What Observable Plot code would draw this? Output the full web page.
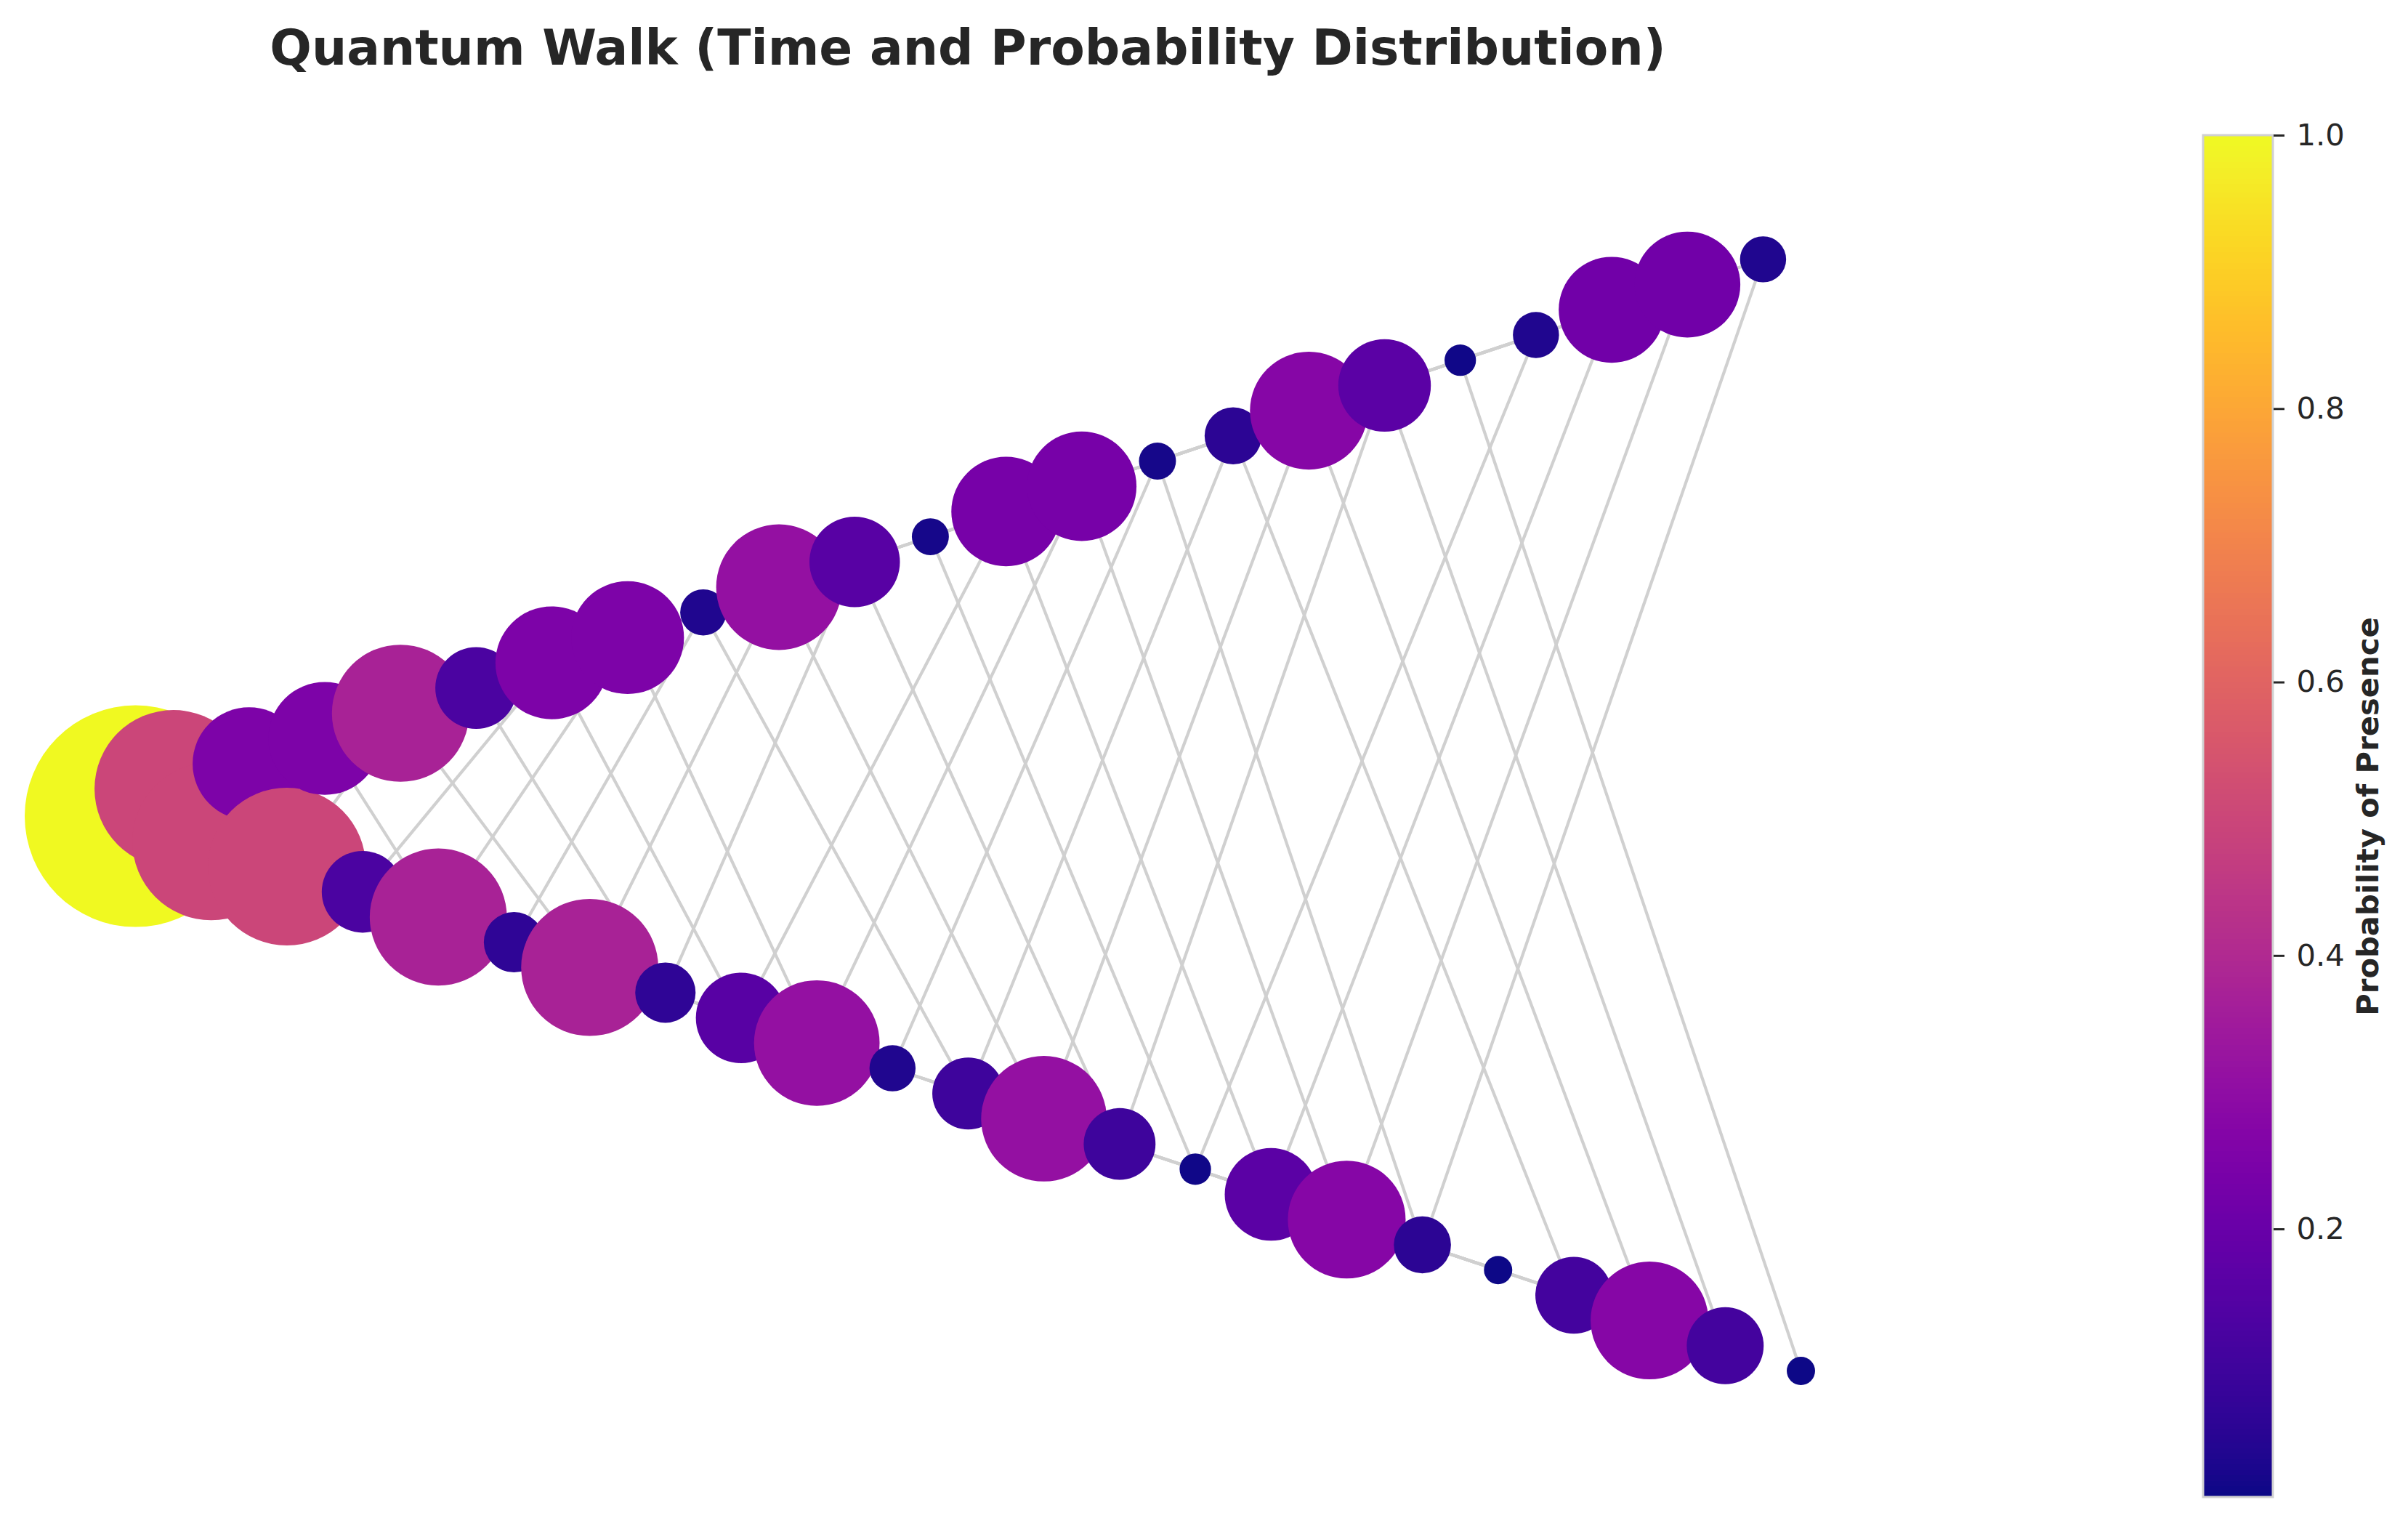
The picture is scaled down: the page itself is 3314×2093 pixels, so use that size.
<!DOCTYPE html>
<html><head><meta charset="utf-8">
<script src="https://cdn.jsdelivr.net/npm/d3@7"></script>
<script src="https://cdn.jsdelivr.net/npm/@observablehq/plot@0.6"></script>
<style>
html,body{margin:0;padding:0;background:#fff;}
#root{position:relative;width:3314px;height:2093px;overflow:hidden;font-family:"DejaVu Sans",sans-serif;background:#fff;}
#title{position:absolute;left:0;width:2664px;top:32px;text-align:center;font-size:67.8px;font-weight:bold;color:#262626;line-height:67px;white-space:nowrap;font-family:"DejaVu Sans",sans-serif;}
#main{position:absolute;left:0;top:0;}
#cbar{position:absolute;left:3000px;top:0;}
</style></head>
<body>
<div id="root"><div id="main"></div><div id="title">Quantum Walk (Time and Probability Distribution)</div><div id="cbar"></div></div>
<script>
// time step of each node, and its lattice position on the walk line
const stepTime = [0, 1,1, 2,2,2, 3,3,3,3, 4,4,4,4,4, 5,5,5,5,5,5, 6,6,6,6,6,6,6, 7,7,7,7,7,7,7,7, 8,8,8,8,8,8,8,8,8];
const latticePos = [0, -1,1, -2,0,2, -3,-1,1,3, -4,-2,0,2,4, -5,-3,-1,1,3,5, -6,-4,-2,0,2,4,6, -7,-5,-3,-1,1,3,5,7, -8,-6,-4,-2,0,2,4,6,8];
const probability = [1,
  0.5, 0.5,
  0.25, 0.5, 0.25,
  0.125, 0.375, 0.375, 0.125,
  0.0625, 0.25, 0.375, 0.25, 0.0625,
  0.03125, 0.15625, 0.3125, 0.3125, 0.15625, 0.03125,
  0.015625, 0.09375, 0.234375, 0.3125, 0.234375, 0.09375, 0.015625,
  0.0078125, 0.0546875, 0.1640625, 0.2734375, 0.2734375, 0.1640625, 0.0546875, 0.0078125,
  0.00390625, 0.03125, 0.109375, 0.21875, 0.2734375, 0.21875, 0.109375, 0.03125, 0.00390625];
// graph layout coordinates of each node
const layoutX = [0,1,2,3,4,5,6,7,8,9,10,11,12,13,14,15,16,17,18,19,20,21,22,23,24,25,26,27,28,29,30,31,32,33,34,35,36,37,38,39,40,41,42,43,44];
const layoutY = [-0.58, 1.58, -2.58, 3.58, -4.58, 5.58, -6.58, 7.58, -8.58, 9.58,
  -10.58, 11.58, -12.58, 13.58, -14.58, 15.58, -16.58, 17.58, -18.58, 19.58,
  -20.58, 21.58, -22.58, 23.58, -24.58, 25.58, -26.58, 27.58, -28.58, 29.58,
  -30.58, 31.58, -32.58, 33.58, -34.58, 35.58, -36.58, 37.58, -38.58, 39.58,
  -40.58, 41.58, -42.58, 43.58, -44.58];
const colorbarTicks = [0.2, 0.4, 0.6, 0.8, 1.0];
const titleText = "Quantum Walk (Time and Probability Distribution)";
const colorbarLabel = "Probability of Presence";

const sizeFloor = 0.0126;
const vmin = d3.min(probability), vmax = d3.max(probability);

const nodes = layoutX.map((x, i) => ({x, y: layoutY[i], p: probability[i], t: stepTime[i], q: latticePos[i]}));
const byKey = new Map(nodes.map(n => [n.t + "," + n.q, n]));
const edges = [];
for (const n of nodes) for (const d of [-1, 1]) {
  const m = byKey.get((n.t + 1) + "," + (n.q + d));
  if (m) edges.push({x1: n.x, y1: n.y, x2: m.x, y2: m.y});
}

const main = Plot.plot({
  width: 2950, height: 2093, margin: 0,
  style: {fontFamily: "DejaVu Sans", background: "transparent"},
  x: {domain: [0, 44], range: [186, 2478], axis: null},
  y: {domain: [-50, 50], range: [1980, 245], axis: null},
  r: {type: "sqrt", domain: [0, 1 + sizeFloor], range: [0, 152.5]},
  color: {type: "linear", scheme: "plasma", domain: [vmin, vmax]},
  marks: [
    Plot.link(edges, {x1: "x1", y1: "y1", x2: "x2", y2: "y2", stroke: "#d0d0d0", strokeWidth: 4.2}),
    Plot.dot(nodes, {x: "x", y: "y", r: d => d.p + sizeFloor, fill: "p", sort: null})
  ]
});
document.getElementById("main").appendChild(main);

const N = 500;
const slices = d3.range(N).map(i => {
  const a = vmin + (vmax - vmin) * i / N, b = vmin + (vmax - vmin) * (i + 1) / N;
  return {a, b, m: (a + b) / 2};
});
const cbar = Plot.plot({
  width: 314, height: 2093,
  marginLeft: 32, marginRight: 186, marginTop: 186, marginBottom: 33,
  style: {fontFamily: "DejaVu Sans", background: "transparent"},
  x: {domain: [0, 1], axis: null},
  y: {domain: [vmin, vmax], axis: null},
  color: {type: "linear", scheme: "plasma", domain: [vmin, vmax]},
  marks: [
    Plot.rect(slices, {x1: 0, x2: 1, y1: "a", y2: "b", fill: "m", shapeRendering: "crispEdges"}),
    Plot.rect([{}], {x1: 0, x2: 1, y1: vmin, y2: vmax, fill: "none", stroke: "#d0d0d0", strokeWidth: 3}),
    Plot.axisY({anchor: "right", ticks: colorbarTicks, tickFormat: d => d.toFixed(1), tickSize: 15, tickPadding: 17,
      fontSize: 41.7, label: null, color: "#262626", strokeWidth: 3}),
    Plot.text([colorbarLabel], {frameAnchor: "right", dx: 131, rotate: -90, textAnchor: "middle", lineAnchor: "middle",
      fontSize: 41.7, fontWeight: "bold", fill: "#262626"})
  ]
});
document.getElementById("cbar").appendChild(cbar);
document.getElementById("title").textContent = titleText;
</script>
</body></html>
